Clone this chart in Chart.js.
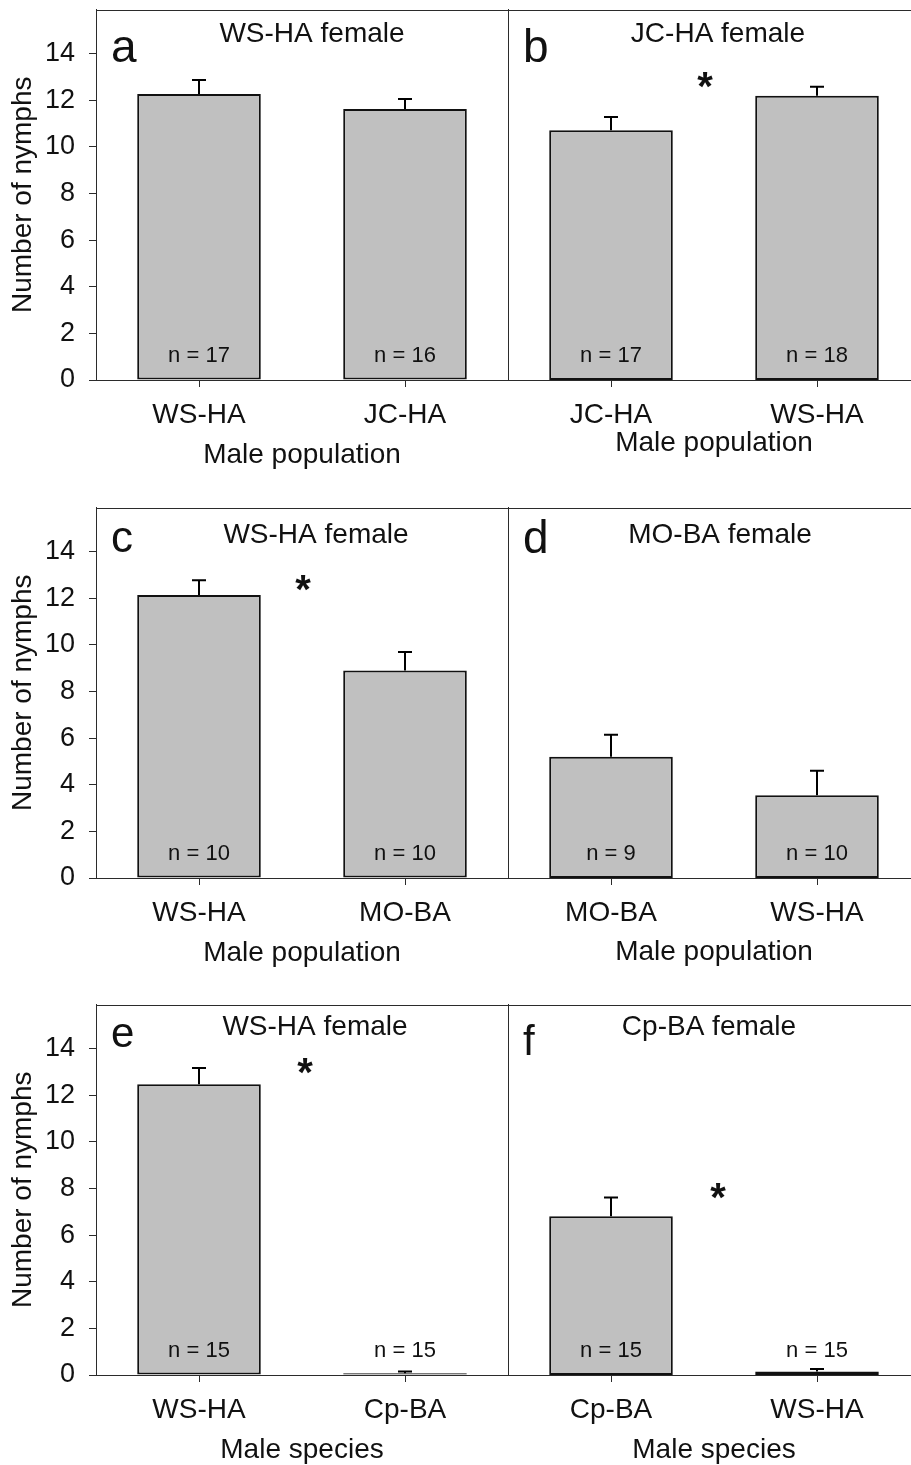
<!DOCTYPE html>
<html lang="en">
<head>
<meta charset="UTF-8">
<title>Number of nymphs by male population</title>
<script src="https://cdn.jsdelivr.net/npm/chart.js@4.4.1/dist/chart.umd.min.js"></script>
<style>
    html, body {
        margin: 0;
        padding: 0;
        width: 911px;
        height: 1465px;
        overflow: hidden;
        background: #fff;
    }
    .panel {
        position: absolute;
    }
</style>
</head>
<body>

<div class="panel" id="p0"><canvas id="c0"></canvas></div>
<div class="panel" id="p1"><canvas id="c1"></canvas></div>
<div class="panel" id="p2"><canvas id="c2"></canvas></div>
<div class="panel" id="p3"><canvas id="c3"></canvas></div>
<div class="panel" id="p4"><canvas id="c4"></canvas></div>
<div class="panel" id="p5"><canvas id="c5"></canvas></div>

<script>
    // data
    var panelLetters = ['a', 'b', 'c', 'd', 'e', 'f'];
    var femaleTitles = ['WS-HA female', 'JC-HA female', 'WS-HA female', 'MO-BA female', 'WS-HA female', 'Cp-BA female'];
    var maleLabels = [
        ['WS-HA', 'JC-HA'],
        ['JC-HA', 'WS-HA'],
        ['WS-HA', 'MO-BA'],
        ['MO-BA', 'WS-HA'],
        ['WS-HA', 'Cp-BA'],
        ['Cp-BA', 'WS-HA']
    ];
    var xTitles = ['Male population', 'Male population', 'Male population', 'Male population', 'Male species', 'Male species'];
    var meanNymphs = [[12.27, 11.63], [10.72, 12.2], [12.14, 8.9], [5.2, 3.55], [12.48, 0.08], [6.81, 0.15]];
    var seNymphs = [[0.6, 0.43], [0.57, 0.39], [0.64, 0.8], [0.95, 1.05], [0.69, 0.07], [0.81, 0.11]];
    var sampleSizes = [[17, 16], [17, 18], [10, 10], [9, 10], [15, 15], [15, 15]];
    var significant = [false, true, true, false, true, true];
    var yTicks = [0, 2, 4, 6, 8, 10, 12, 14];
    var yMax = 15.9;

    var FONT = '"Liberation Sans", Arial, Helvetica, sans-serif';
    var INK = '#111';
    var LINE = '#2b2b2b';

    // where the text bits sit inside each plot box (px from chartArea left/top)
    var decor = [
        { letter: [15, 52, 46], title: [216, 32.5], star: null,       xTitlePad: 8 },
        { letter: [15, 52, 46], title: [210, 32.5], star: [197, 67],  xTitlePad: 20 },
        { letter: [15, 44, 44], title: [220, 35.5], star: [207, 72],  xTitlePad: 8 },
        { letter: [15, 45, 46], title: [212, 35],   star: null,       xTitlePad: 9 },
        { letter: [15, 42, 42], title: [219, 30.5], star: [209, 58],  xTitlePad: 8 },
        { letter: [15, 50, 42], title: [201, 30.5], star: [210, 183], xTitlePad: 8 }
    ];
    var rowTop = [0, 498, 995];

    var panelDecor = {
        id: 'panelDecor',
        afterDatasetsDraw: function(chart, args, opts) {
            var i = opts.index;
            var d = decor[i];
            var ctx = chart.ctx;
            var area = chart.chartArea;
            var y = chart.scales.y;
            var meta = chart.getDatasetMeta(0);

            ctx.save();

            // top frame line
            ctx.strokeStyle = LINE;
            ctx.lineWidth = 1;
            ctx.beginPath();
            ctx.moveTo(area.left, Math.round(area.top) + 0.5);
            ctx.lineTo(area.right, Math.round(area.top) + 0.5);
            ctx.stroke();

            // upward error bars
            ctx.strokeStyle = '#000';
            ctx.lineWidth = 2;
            meta.data.forEach(function(bar, j) {
                var top = y.getPixelForValue(meanNymphs[i][j] + seNymphs[i][j]);
                var base = y.getPixelForValue(meanNymphs[i][j]);
                ctx.beginPath();
                ctx.moveTo(bar.x, base);
                ctx.lineTo(bar.x, top);
                ctx.moveTo(bar.x - 7, top);
                ctx.lineTo(bar.x + 7, top);
                ctx.stroke();
            });

            // n = ...
            ctx.fillStyle = INK;
            ctx.font = '22px ' + FONT;
            ctx.textAlign = 'center';
            ctx.textBaseline = 'middle';
            meta.data.forEach(function(bar, j) {
                ctx.fillText('n = ' + sampleSizes[i][j], bar.x, area.bottom - 24);
            });

            // panel letter
            ctx.textAlign = 'left';
            ctx.textBaseline = 'alphabetic';
            ctx.font = d.letter[2] + 'px ' + FONT;
            ctx.fillText(panelLetters[i], area.left + d.letter[0], area.top + d.letter[1]);

            // female population title
            ctx.textAlign = 'center';
            ctx.font = '28px ' + FONT;
            ctx.fillText(femaleTitles[i], area.left + d.title[0], area.top + d.title[1]);

            // significance mark
            if (significant[i] && d.star) {
                ctx.font = 'bold 40px ' + FONT;
                ctx.fillText('*', area.left + d.star[0], area.top + d.star[1] + 23);
            }

            ctx.restore();
        }
    };

    function makePanel(i) {
        var col = i % 2;
        var row = Math.floor(i / 2);
        var box = document.getElementById('p' + i);
        var w = col ? 420 : 508;
        var h = 480;
        box.style.left = (col ? 500 : 0) + 'px';
        box.style.top = rowTop[row] + 'px';
        box.style.width = w + 'px';
        box.style.height = h + 'px';

        var canvas = document.getElementById('c' + i);
        canvas.width = w;
        canvas.height = h;

        new Chart(canvas.getContext('2d'), {
            type: 'bar',
            data: {
                labels: maleLabels[i],
                datasets: [{
                    data: meanNymphs[i],
                    backgroundColor: '#c0c0c0',
                    borderColor: '#111',
                    borderWidth: 2,
                    borderSkipped: false,
                    barPercentage: 0.6,
                    categoryPercentage: 1.0
                }]
            },
            options: {
                responsive: false,
                animation: false,
                events: [],
                layout: { padding: { top: 9.5, left: 0, right: 0, bottom: 0 } },
                plugins: {
                    legend: { display: false },
                    tooltip: { enabled: false },
                    panelDecor: { index: i }
                },
                scales: {
                    x: {
                        offset: true,
                        grid: {
                            offset: false,
                            drawOnChartArea: false,
                            tickLength: 7,
                            color: LINE
                        },
                        border: { color: LINE, width: 1 },
                        ticks: {
                            color: INK,
                            padding: 11,
                            maxRotation: 0,
                            font: { family: FONT, size: 28 }
                        },
                        title: {
                            display: true,
                            text: xTitles[i],
                            color: INK,
                            padding: { top: 0, bottom: decor[i].xTitlePad },
                            font: { family: FONT, size: 28 }
                        },
                        afterFit: function(scale) {
                            scale.height = 100;
                            scale.paddingLeft = 0;
                            scale.paddingRight = 0;
                        }
                    },
                    y: {
                        min: 0,
                        max: yMax,
                        afterBuildTicks: function(scale) {
                            scale.ticks = yTicks.map(function(v) { return { value: v }; });
                        },
                        grid: {
                            display: !col,
                            drawOnChartArea: false,
                            tickLength: 7,
                            color: LINE
                        },
                        border: { color: LINE, width: 1 },
                        ticks: {
                            display: !col,
                            color: INK,
                            padding: 14,
                            font: { family: FONT, size: 27 }
                        },
                        title: {
                            display: !col,
                            text: 'Number of nymphs',
                            color: INK,
                            padding: { top: 6, bottom: 0 },
                            font: { family: FONT, size: 28 }
                        },
                        afterFit: function(scale) {
                            scale.width = col ? 8 : 96;
                            scale.paddingTop = 0;
                            scale.paddingBottom = 0;
                        }
                    }
                }
            },
            plugins: [panelDecor]
        });
    }

    for (var i = 0; i < 6; i++) {
        makePanel(i);
    }
</script>
</body>
</html>
